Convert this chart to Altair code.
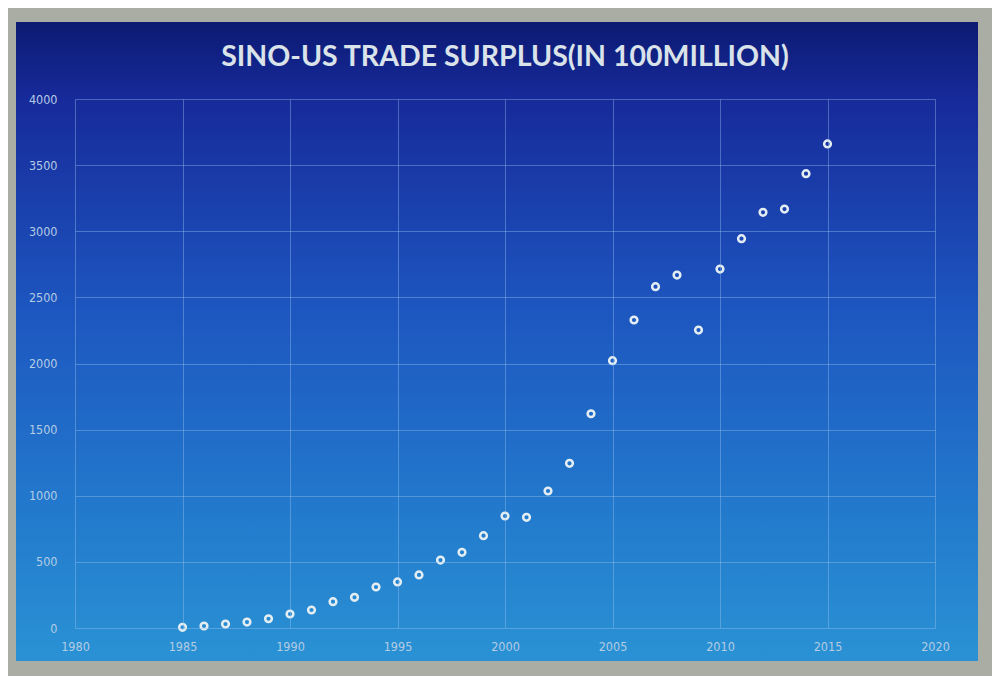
import altair as alt
import pandas as pd

years = list(range(1985, 2016))
surplus = [5, 15, 30, 45, 70, 106, 136, 199, 232, 310, 348, 401, 514, 572, 698,
           847, 837, 1036, 1245, 1620, 2021, 2329, 2581, 2669, 2253, 2714, 2944,
           3143, 3168, 3435, 3660]
x_ticks = [1980, 1985, 1990, 1995, 2000, 2005, 2010, 2015, 2020]
y_ticks = [0, 500, 1000, 1500, 2000, 2500, 3000, 3500, 4000]
title_text = "SINO-US TRADE SURPLUS(IN 100MILLION)"

df = pd.DataFrame({"year": years, "surplus": surplus})

W, H = 860, 529

bg = alt.Chart(pd.DataFrame({"k": [0]})).mark_rect(
    fill=alt.Gradient(
        gradient="linear", x1=0, x2=0, y1=0, y2=1,
        stops=[
            alt.GradientStop(offset=0.0, color="#0c1a72"),
            alt.GradientStop(offset=0.12, color="#172a9a"),
            alt.GradientStop(offset=0.45, color="#1d56c0"),
            alt.GradientStop(offset=0.75, color="#2278cc"),
            alt.GradientStop(offset=1.0, color="#2a92d4"),
        ],
    )
).encode(
    x=alt.value(-59), x2=alt.value(903), y=alt.value(-77), y2=alt.value(562)
)

axis_common = dict(domain=False, ticks=False, grid=True, gridColor="#9cc4f0",
                   gridOpacity=0.4, gridWidth=1, labelColor="#b4cce4",
                   labelFont="DejaVu Sans Condensed", labelFontSize=12.5,
                   labelFlush=False, zindex=1, title=None, format="d")

points = alt.Chart(df).mark_point(
    filled=False, stroke="#e4eef2", strokeWidth=2.5, size=45, opacity=1
).encode(
    x=alt.X("year:Q", scale=alt.Scale(domain=[1980, 2020], nice=False, zero=False),
            axis=alt.Axis(values=x_ticks, labelPadding=12, **axis_common)),
    y=alt.Y("surplus:Q", scale=alt.Scale(domain=[0, 4000], nice=False),
            axis=alt.Axis(values=y_ticks, labelPadding=18, **axis_common)),
)

chart = alt.layer(bg, points).properties(
    width=W, height=H,
    title=alt.TitleParams(title_text, font="Lato", fontSize=28.5, fontWeight="bold",
                          color="#dae3ea", anchor="middle", offset=-49),
    autosize=alt.AutoSizeParams(type="none"),
    padding={"left": 67, "top": 91, "right": 57, "bottom": 48},
).configure(
    background="#a9ada3",
).configure_view(
    stroke=None,
)

chart.save("out.html", embed_options={"renderer": "svg", "actions": False})
